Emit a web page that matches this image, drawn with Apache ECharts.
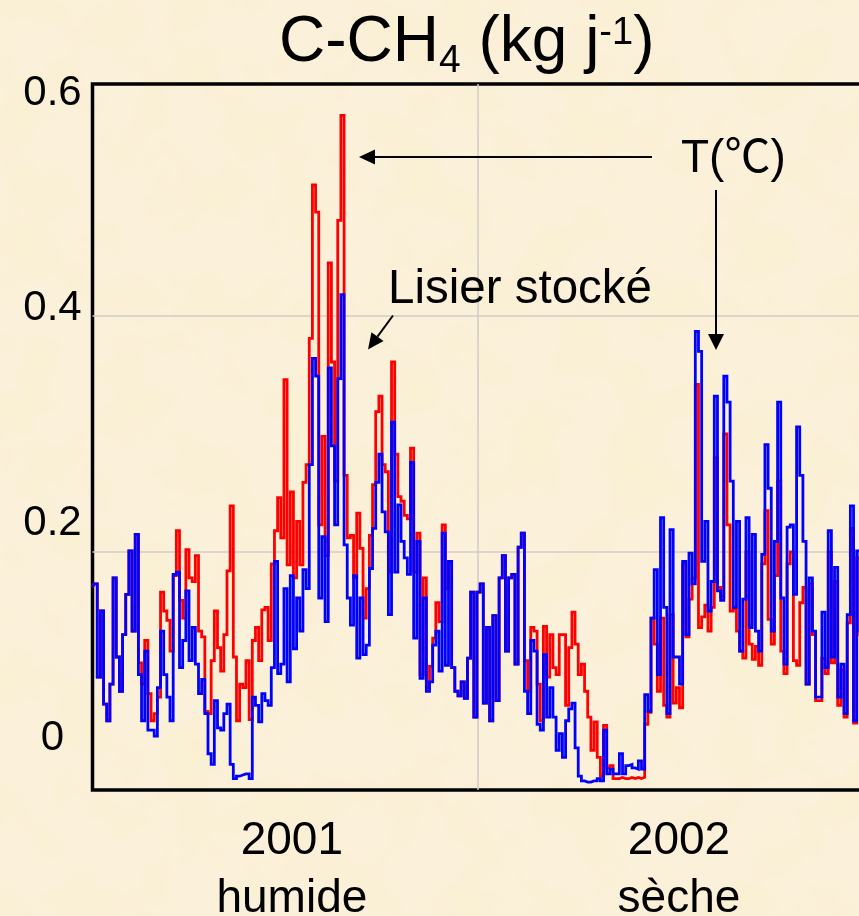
<!DOCTYPE html>
<html>
<head>
<meta charset="utf-8">
<style>
html,body{margin:0;padding:0;width:859px;height:916px;overflow:hidden;background-color:#FBF0DA;}
#tex{position:absolute;left:0;top:0;width:859px;height:916px;}
#chart{position:absolute;left:0;top:0;width:859px;height:916px;}
</style>
<script src="https://cdn.jsdelivr.net/npm/echarts@6/dist/echarts.min.js"></script>
</head>
<body>
<svg id="tex" xmlns="http://www.w3.org/2000/svg">
  <filter id="mottle" x="0" y="0" width="100%" height="100%">
    <feTurbulence type="fractalNoise" baseFrequency="0.018" numOctaves="3" seed="7"/>
    <feColorMatrix type="matrix" values="0 0 0 0 0.95  0 0 0 0 0.87  0 0 0 0 0.62  1.6 0 0 0 -0.62"/>
  </filter>
  <rect width="859" height="916" filter="url(#mottle)"/>
</svg>
<div id="chart"></div>
<script>
// Values, in thousandths of kg per day, one every 3 days
const redSeries = [
170,173,94,150,71,57,88,178,111,82,130,164,201,133,215,
106,88,125,80,57,63,77,166,150,142,116,180,218,159,144,
202,178,175,197,133,128,65,63,108,150,119,99,130,184,239,
111,57,88,85,108,58,125,136,108,151,153,125,190,218,246,
212,346,189,251,178,226,189,259,274,381,
511,488,223,298,197,445,361,260,481,570,
265,212,214,178,233,203,144,169,214,257,
319,332,274,268,183,361,283,247,243,231,
228,288,183,216,96,178,85,103,127,157,
141,223,169,192,102,82,78,90,76,110,
166,60,166,173,72,136,57,146,74,178,
197,116,178,181,105,204,216,108,82,136,
133,88,57,137,94,130,102,96,130,130,
70,119,149,122,96,105,82,60,32,56,
26,10,53,17,19,8,8,9,8,8,
9,8,9,8,9,54,64,144,122,82,
144,70,60,147,72,85,68,190,128,160,
178,342,136,145,155,133,153,280,170,162,
300,223,150,152,133,116,110,200,122,109,
120,104,190,235,143,122,180,260,116,97,
190,200,108,104,157,170,88,173,130,74,
74,110,97,200,106,175,70,100,60,140,
220,55,195,130];
const blueSeries = [
170,173,94,150,71,57,88,178,111,82,130,164,201,133,215,
96,57,116,49,49,44,85,133,96,77,57,181,183,102,125,
167,108,136,105,80,92,63,29,20,74,51,49,63,71,20,
8,10,11,12,12,8,77,70,56,80,74,70,102,192,97,
105,169,90,180,118,161,133,185,169,274,
364,349,161,213,141,356,290,223,347,418,
206,161,138,180,110,161,113,121,186,220,
259,283,234,217,147,310,183,240,209,195,
181,276,127,209,93,161,82,90,121,133,
99,216,104,192,102,82,78,90,76,110,
166,60,166,173,72,136,57,146,74,178,
197,116,178,181,105,204,216,82,63,125,
116,54,49,113,60,85,60,32,46,26,
57,67,72,34,10,6,5,5,6,6,
8,6,49,12,16,12,12,29,12,19,
20,17,16,23,16,79,65,144,185,96,
229,153,63,219,111,111,88,192,130,199,
173,387,370,192,226,150,175,332,167,159,
349,327,260,153,226,116,160,229,136,215,
133,116,198,291,254,133,209,327,161,105,
221,223,164,306,265,209,88,178,133,77,
77,149,102,218,111,187,77,105,63,147,
239,57,201,133];
const dayStep = 3;
const yTickValues = [0, 0.2, 0.4, 0.6];
const yearLabels = ['2001\nhumide', '2002\nsèche'];
const yearLabelDays = [189, 556];
const yearBoundaryDays = [365];

const toPoints = arr => arr.map((v, i) => [i * dayStep, v / 1000]);
const font = '"Liberation Sans", Arial, "Noto Sans CJK SC", sans-serif';
const chart = echarts.init(document.getElementById('chart'), null, {renderer: 'canvas'});

function arrow(x1, y1, x2, y2, len, halfW) {
  const dx = x2 - x1, dy = y2 - y1, L = Math.hypot(dx, dy), ux = dx / L, uy = dy / L;
  const bx = x2 - ux * len, by = y2 - uy * len;
  return [
    {type: 'line', z: 20, shape: {x1, y1, x2: bx, y2: by}, style: {stroke: '#000', lineWidth: 2}},
    {type: 'polygon', z: 20, shape: {points: [[x2, y2], [bx - uy * halfW, by + ux * halfW], [bx + uy * halfW, by - ux * halfW]]}, style: {fill: '#000'}}
  ];
}

chart.setOption({
  backgroundColor: 'transparent',
  animation: false,
  title: {
    left: 274, top: -4,
    text: '{a|C-CH}{sub|4}{a| (kg j}{sup|-1}{a|)}',
    textStyle: {
      fontWeight: 'normal',
      rich: {
        a: {fontFamily: font, fontSize: 64, fontWeight: 'normal', color: '#000', lineHeight: 84},
        sub: {fontFamily: font, fontSize: 39, fontWeight: 'normal', color: '#000', lineHeight: 39, padding: [36, 0, 0, 0]},
        sup: {fontFamily: font, fontSize: 38, fontWeight: 'normal', color: '#000', lineHeight: 38, padding: [0, 0, 18, 0]}
      }
    }
  },
  grid: {left: 92.5, top: 84, width: 770, height: 706, show: true, borderColor: '#000', borderWidth: 3.5, backgroundColor: 'transparent', containLabel: false, outerBoundsMode: 'none'},
  xAxis: {
    type: 'value', min: 0, max: 730,
    axisLine: {show: false},
    axisTick: {show: false, customValues: yearBoundaryDays},
    splitLine: {show: true, lineStyle: {color: '#D0CCC8', width: 1.5}},
    axisLabel: {
      customValues: yearLabelDays,
      formatter: v => yearLabels[yearLabelDays.indexOf(v)] || '',
      fontFamily: font, fontSize: 46, color: '#000', lineHeight: 58, margin: 22,
      showMinLabel: true, showMaxLabel: true, hideOverlap: false
    }
  },
  yAxis: [
    {
      type: 'value', min: -0.0017, max: 0.5966, position: 'left',
      axisLine: {show: false},
      axisTick: {show: false, customValues: [0.2, 0.4]},
      axisLabel: {show: false},
      splitLine: {show: true, lineStyle: {color: '#D0CCC8', width: 1.5}}
    },
    {
      type: 'value', min: -0.0479, max: 0.6088, position: 'left',
      axisLine: {show: false},
      axisTick: {show: false, customValues: yTickValues},
      splitLine: {show: false},
      axisLabel: {
        customValues: yTickValues,
        formatter: v => v === 0 ? '0' : v.toFixed(1),
        align: 'center', margin: 40,
        fontFamily: font, fontSize: 42, color: '#000',
        showMinLabel: true, showMaxLabel: true
      }
    }
  ],
  series: [
    {name: 'Rouge', type: 'line', yAxisIndex: 0, step: 'middle', data: toPoints(redSeries), showSymbol: false, symbol: 'none', lineStyle: {color: '#FF0000', width: 2.8, join: 'miter'}, itemStyle: {color: '#FF0000'}, z: 3, clip: true},
    {name: 'Bleu', type: 'line', yAxisIndex: 0, step: 'middle', data: toPoints(blueSeries), showSymbol: false, symbol: 'none', lineStyle: {color: '#0000FF', width: 2.8, join: 'miter'}, itemStyle: {color: '#0000FF'}, z: 4, clip: true}
  ],
  graphic: [
    {type: 'text', z: 20, left: 388, top: 266, style: {text: 'Lisier stocké', font: '47.5px ' + font, fill: '#000'}},
    {type: 'text', z: 20, left: 681, top: 136, style: {text: 'T(℃)', font: '46px ' + font, fill: '#000'}},
    ...arrow(652, 157, 359, 157, 16, 7.5),
    ...arrow(716, 190, 716, 350, 16, 8),
    ...arrow(393, 315.5, 368, 349.5, 16, 7.5)
  ]
});
</script>
</body>
</html>
